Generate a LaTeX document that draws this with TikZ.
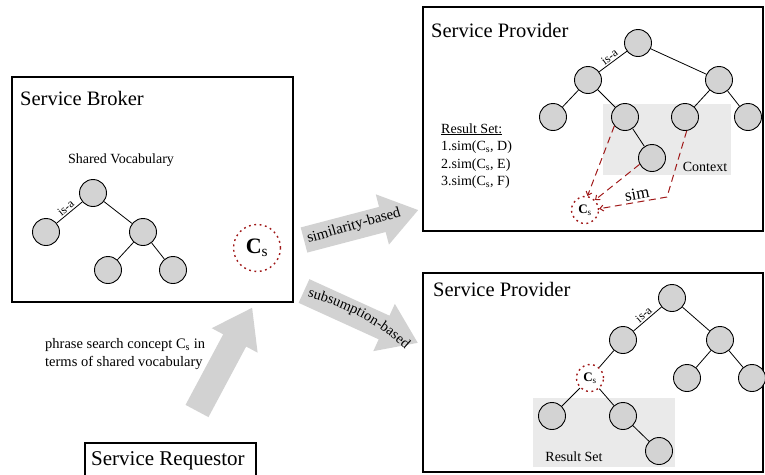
\documentclass[tikz,border=0pt]{standalone}
\usepackage{fontspec}
\setmainfont{Liberation Serif}
\usetikzlibrary{arrows.meta,decorations.text}
\definecolor{nodegray}{RGB}{211,211,211}
\definecolor{ctxgray}{RGB}{234,234,234}
\definecolor{arrgray}{RGB}{210,210,210}
\definecolor{dred}{RGB}{160,25,25}
\newcommand{\fatarrow}[3]{%
  \begin{scope}[shift={(#1)},rotate=#2]
    \fill[arrgray] (0,-13) -- (#3-37,-13) -- (#3-37,-26) -- (#3,0) -- (#3-37,26) -- (#3-37,13) -- (0,13) -- cycle;
  \end{scope}}
\tikzset{
  titletext/.style={font=\fontsize{20.5}{24}\selectfont, anchor=base west, inner sep=0pt},
  smalltext/.style={font=\fontsize{14}{16}\selectfont, inner sep=0pt},
  cnode/.style={circle, draw, fill=nodegray, minimum size=27pt, inner sep=0pt, line width=0.9pt},
  csnode/.style={circle, draw=dred, dash pattern=on 1.8pt off 3.6pt, line width=1.4pt, inner sep=0pt},
  boxline/.style={draw, line width=1.1pt},
  edgeline/.style={line width=0.8pt},
  simline/.style={draw=dred, dash pattern=on 7pt off 4.5pt, line width=1pt, -{Straight Barb[length=3.5pt,width=6pt]}},
  isa/.style={font=\fontsize{12}{14}\selectfont, inner sep=1.5pt, sloped, above}
}
\begin{document}
\begin{tikzpicture}[x=1pt,y=-1pt]
\useasboundingbox (0,0) rectangle (765,474);

% ---------- big arrows ----------
\fatarrow{304,240}{14.7}{118}
\fatarrow{304,291}{-24.5}{125}
\fatarrow{197,411}{61.9}{117}
\node[font=\fontsize{15}{17}\selectfont, inner sep=0pt, rotate=16] (simtxt) at (354,226) {similarity-based};
\path[decorate, decoration={text along path, text align=center,
   text={|\fontsize{14.5}{16}\selectfont|subsumption-based}}]
   (301,295) .. controls (340,305) and (378,322) .. (410,354);

% ---------- Service Broker ----------
\draw[boxline] (12,77) rectangle (293,302);
\node[titletext] (brokertitle) at (20,105) {Service Broker};
\node[smalltext, anchor=base] (shared) at (121,163) {Shared Vocabulary};
\node[cnode] (b0) at (93,193) {};
\node[cnode] (b1) at (46,232) {};
\node[cnode] (b2) at (143,232) {};
\node[cnode] (b3) at (108,270) {};
\node[cnode] (b4) at (173,270) {};
\draw[edgeline] (b1) -- node[isa] {is-a} (b0);
\draw[edgeline] (b0) -- (b2);
\draw[edgeline] (b2) -- (b3);
\draw[edgeline] (b2) -- (b4);
\node[csnode, minimum size=47pt, font=\fontsize{22}{24}\selectfont] (csb) at (257,248) {\textbf{C}\textsubscript{s}};

% ---------- Requestor ----------
\draw[boxline] (85,443) rectangle (256,480);
\node[titletext, font=\fontsize{21}{24}\selectfont] (requestor) at (91,465) {Service Requestor};
\node[smalltext, font=\fontsize{14.5}{16}\selectfont, anchor=base west] (phrase1) at (45,348) {phrase search concept C\textsubscript{s} in};
\node[smalltext, font=\fontsize{14.5}{16}\selectfont, anchor=base west] (phrase2) at (45,366) {terms of shared vocabulary};

% ---------- Service Provider 1 ----------
\draw[boxline] (423,7) rectangle (763,231);
\fill[ctxgray] (603,104) rectangle (731,175);
\node[titletext] (p1title) at (431,37) {Service Provider};
\node[cnode] (p0) at (638,43) {};
\node[cnode] (pL) at (588,80) {};
\node[cnode] (pR) at (719,80) {};
\node[cnode] (pLL) at (553,117) {};
\node[cnode] (pLR) at (625,117) {};
\node[cnode] (pRL) at (685,117) {};
\node[cnode] (pRR) at (748,117) {};
\node[cnode] (pLRR) at (652,158) {};
\draw[edgeline] (pL) -- node[isa] {is-a} (p0);
\draw[edgeline] (p0) -- (pR);
\draw[edgeline] (pL) -- (pLL);
\draw[edgeline] (pL) -- (pLR);
\draw[edgeline] (pR) -- (pRL);
\draw[edgeline] (pR) -- (pRR);
\draw[edgeline] (pLR) -- (pLRR);
\node[smalltext, anchor=base] (ctx) at (705,171) {Context};
\node[csnode, minimum size=27pt, font=\fontsize{13}{15}\selectfont] (cs1) at (585,210) {\textbf{C}\textsubscript{s}};
\draw[simline] (pLR.220) -- (cs1.80);
\draw[simline] (pLRR.207) -- (cs1.45);
\coordinate (corner) at (667,197);
\draw[simline] (pRL.277) -- (corner) -- (cs1.5);
\node[font=\fontsize{17}{19}\selectfont, rotate=10, inner sep=0pt] (simlbl) at (637,194) {sim};
\node[smalltext, anchor=base west] (rs0) at (441,133) {\underline{Result Set:}};
\node[smalltext, anchor=base west] (rs1) at (441,150.5) {1.sim(C\textsubscript{s}, D)};
\node[smalltext, anchor=base west] (rs2) at (441,168) {2.sim(C\textsubscript{s}, E)};
\node[smalltext, anchor=base west] (rs3) at (441,185.5) {3.sim(C\textsubscript{s}, F)};

% ---------- Service Provider 2 ----------
\draw[boxline] (423,273) rectangle (763,472);
\fill[ctxgray] (533,398) rectangle (675,467);
\node[titletext] (p2title) at (433,296) {Service Provider};
\node[cnode] (q0) at (672,298) {};
\node[cnode] (qL) at (623,340) {};
\node[cnode] (qR) at (720,340) {};
\node[cnode] (qRL) at (687,378) {};
\node[cnode] (qRR) at (752,378) {};
\node[csnode, minimum size=27pt, font=\fontsize{13}{15}\selectfont] (cs2) at (590,378) {\textbf{C}\textsubscript{s}};
\node[cnode] (qA) at (552,416) {};
\node[cnode] (qB) at (623,416) {};
\node[cnode] (qC) at (659,451) {};
\draw[edgeline] (qL) -- node[isa] {is-a} (q0);
\draw[edgeline] (q0) -- (qR);
\draw[edgeline] (qR) -- (qRL);
\draw[edgeline] (qR) -- (qRR);
\draw[edgeline] (qL) -- (cs2);
\draw[edgeline] (cs2) -- (qA);
\draw[edgeline] (cs2) -- (qB);
\draw[edgeline] (qB) -- (qC);
\node[smalltext, anchor=base] (rstxt) at (574,461) {Result Set};
\end{tikzpicture}
\end{document}
